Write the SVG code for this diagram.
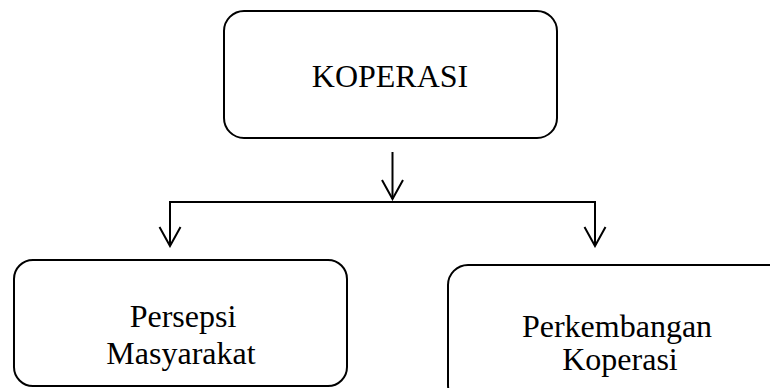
<svg xmlns="http://www.w3.org/2000/svg" width="770" height="388" viewBox="0 0 770 388">
<defs>
<style>
.box{fill:#fff;stroke:#000;stroke-width:2}
.t{font-family:"Liberation Serif","Times New Roman",serif;font-size:32px;fill:#000;text-anchor:middle}
.c{fill:none;stroke:#000;stroke-width:2}
</style>
<marker id="ah" viewBox="0 0 24 24" markerWidth="24" markerHeight="24" refX="22" refY="12" orient="auto" markerUnits="userSpaceOnUse">
<path d="M3,1.5 L22,12 L3,22.5" fill="none" stroke="#000" stroke-width="2"/>
</marker>
</defs>
<rect width="770" height="388" fill="#fff"/>
<g id="koperasi">
<rect class="box" x="224" y="11" width="333" height="127" rx="20"/>
<text class="t" x="390" y="87">KOPERASI</text>
</g>
<g id="persepsi">
<rect class="box" x="14" y="260" width="333" height="126" rx="19"/>
<text class="t" x="183" y="327">Persepsi</text>
<text class="t" x="181" y="364">Masyarakat</text>
</g>
<g id="perkembangan">
<rect class="box" x="448" y="265" width="340" height="140" rx="20"/>
<text class="t" x="617" y="337">Perkembangan</text>
<text class="t" x="620" y="370">Koperasi</text>
</g>
<g id="connectors">
<line class="c" x1="392.5" y1="152" x2="392.5" y2="199" marker-end="url(#ah)"/>
<path class="c" d="M170,246 V202 H595 V246"/>
<line class="c" x1="170" y1="210" x2="170" y2="246" marker-end="url(#ah)"/>
<line class="c" x1="595" y1="210" x2="595" y2="246" marker-end="url(#ah)"/>
</g>
</svg>
